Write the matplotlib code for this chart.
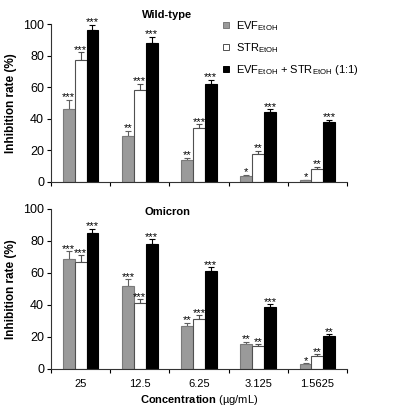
import numpy as np
import matplotlib
matplotlib.use("Agg")
import matplotlib.pyplot as plt
from matplotlib.lines import Line2D

plt.rcParams['font.family'] = ['Liberation Sans', 'DejaVu Sans']
plt.rcParams['mathtext.fontset'] = 'custom'
plt.rcParams['mathtext.rm'] = 'Liberation Sans'
plt.rcParams['mathtext.bf'] = 'Liberation Sans:bold'

# data
concentrations = ['25', '12.5', '6.25', '3.125', '1.5625']
series = ['EVF', 'STR', 'MIX']

wt_evf = [46.5, 29, 14, 3.5, 1]
wt_evf_err = [5.5, 3.5, 1.5, 1, 0.5]
wt_str = [77, 58, 34, 18, 8.5]
wt_str_err = [5, 4, 2.5, 1.5, 1]
wt_mix = [96, 88, 62, 44, 38]
wt_mix_err = [3.5, 4, 2.5, 2, 1.5]
wt_stars = [['***', '**', '**', '*', '*'],
            ['***', '***', '***', '**', '**'],
            ['***', '***', '***', '***', '***']]

om_evf = [69, 52, 27, 15.5, 3]
om_evf_err = [4.5, 4, 2, 1.5, 0.5]
om_str = [67, 41, 31.5, 14.5, 8.3]
om_str_err = [4, 2.5, 2, 1, 0.8]
om_mix = [85, 78, 61.5, 38.5, 20.8]
om_mix_err = [2.5, 3, 2, 2, 0.8]
om_stars = [['***', '***', '**', '**', '*'],
            ['***', '***', '***', '**', '**'],
            ['***', '***', '***', '***', '**']]

face = ['#9a9a9a', 'white', 'black']
edge = ['#7a7a7a', '#505050', 'black']
errc = ['#606060', '#505050', 'black']
width = 0.2
offsets = [-0.2, 0.0, 0.2]


def draw_panel(ax, vals, errs, stars, title, title_y, show_labels):
    x = np.arange(len(concentrations)) + 0.5
    for k in range(3):
        xs = x + offsets[k]
        ax.bar(xs, vals[k], width, color=face[k], edgecolor=edge[k], linewidth=0.8, zorder=2)
        ax.errorbar(xs, vals[k], yerr=[np.zeros(len(vals[k])), errs[k]], fmt='none',
                    ecolor=errc[k], elinewidth=0.8, capsize=2.5, capthick=0.8, zorder=1)
        for xi, v, e, s in zip(xs, vals[k], errs[k], stars[k]):
            ax.text(xi, v + e - 1.5, s, ha='center', va='bottom', fontsize=8)
    ax.set_xlim(0, len(concentrations))
    ax.set_ylim(0, 100)
    ax.set_yticks(np.arange(0, 101, 20))
    ax.set_xticks(np.arange(len(concentrations) + 1))
    ax.set_xticklabels([])
    ax.set_xticks(x, minor=True)
    if show_labels:
        ax.set_xticklabels(concentrations, minor=True)
    ax.tick_params(axis='x', which='minor', length=0, labelsize=8, pad=7)
    ax.tick_params(axis='x', which='major', length=3, width=0.8, direction='out')
    ax.tick_params(axis='y', length=3, width=0.8, labelsize=9, pad=2)
    for sp in ['top', 'right']:
        ax.spines[sp].set_visible(False)
    for sp in ['left', 'bottom']:
        ax.spines[sp].set_linewidth(0.8)
        ax.spines[sp].set_color('#333333')
    ax.set_ylabel('Inhibition rate (%)', fontsize=8.5, fontweight='bold', labelpad=4)
    ax.text(1.96, title_y, title, ha='center', va='center', fontsize=8, fontweight='bold')


fig = plt.figure(figsize=(3.94, 4.11), dpi=100)
ax1 = fig.add_axes([0.1294, 0.5572, 0.7513, 0.3844])
ax2 = fig.add_axes([0.1294, 0.1022, 0.7513, 0.3893])

draw_panel(ax1, [wt_evf, wt_str, wt_mix], [wt_evf_err, wt_str_err, wt_mix_err],
           wt_stars, 'Wild-type', 106, False)
draw_panel(ax2, [om_evf, om_str, om_mix], [om_evf_err, om_str_err, om_mix_err],
           om_stars, 'Omicron', 98, True)

ax2.set_xlabel(r'$\mathbf{Concentration}$ (µg/mL)', fontsize=8, labelpad=3)

handles = [Line2D([], [], marker='s', linestyle='none', markersize=4.5,
                  markerfacecolor=face[k], markeredgecolor=edge[k], markeredgewidth=0.7)
           for k in range(3)]
labels = [r'EVF$_{\mathrm{EtOH}}$', r'STR$_{\mathrm{EtOH}}$',
          r'EVF$_{\mathrm{EtOH}}$ + STR$_{\mathrm{EtOH}}$ (1:1)']
fig.legend(handles, labels, loc='upper left', bbox_to_anchor=(0.547, 0.968),
           frameon=False, fontsize=8, handlelength=0.8, handletextpad=0.5,
           labelspacing=0.75, borderpad=0)

fig.savefig('out.png', dpi=100)
